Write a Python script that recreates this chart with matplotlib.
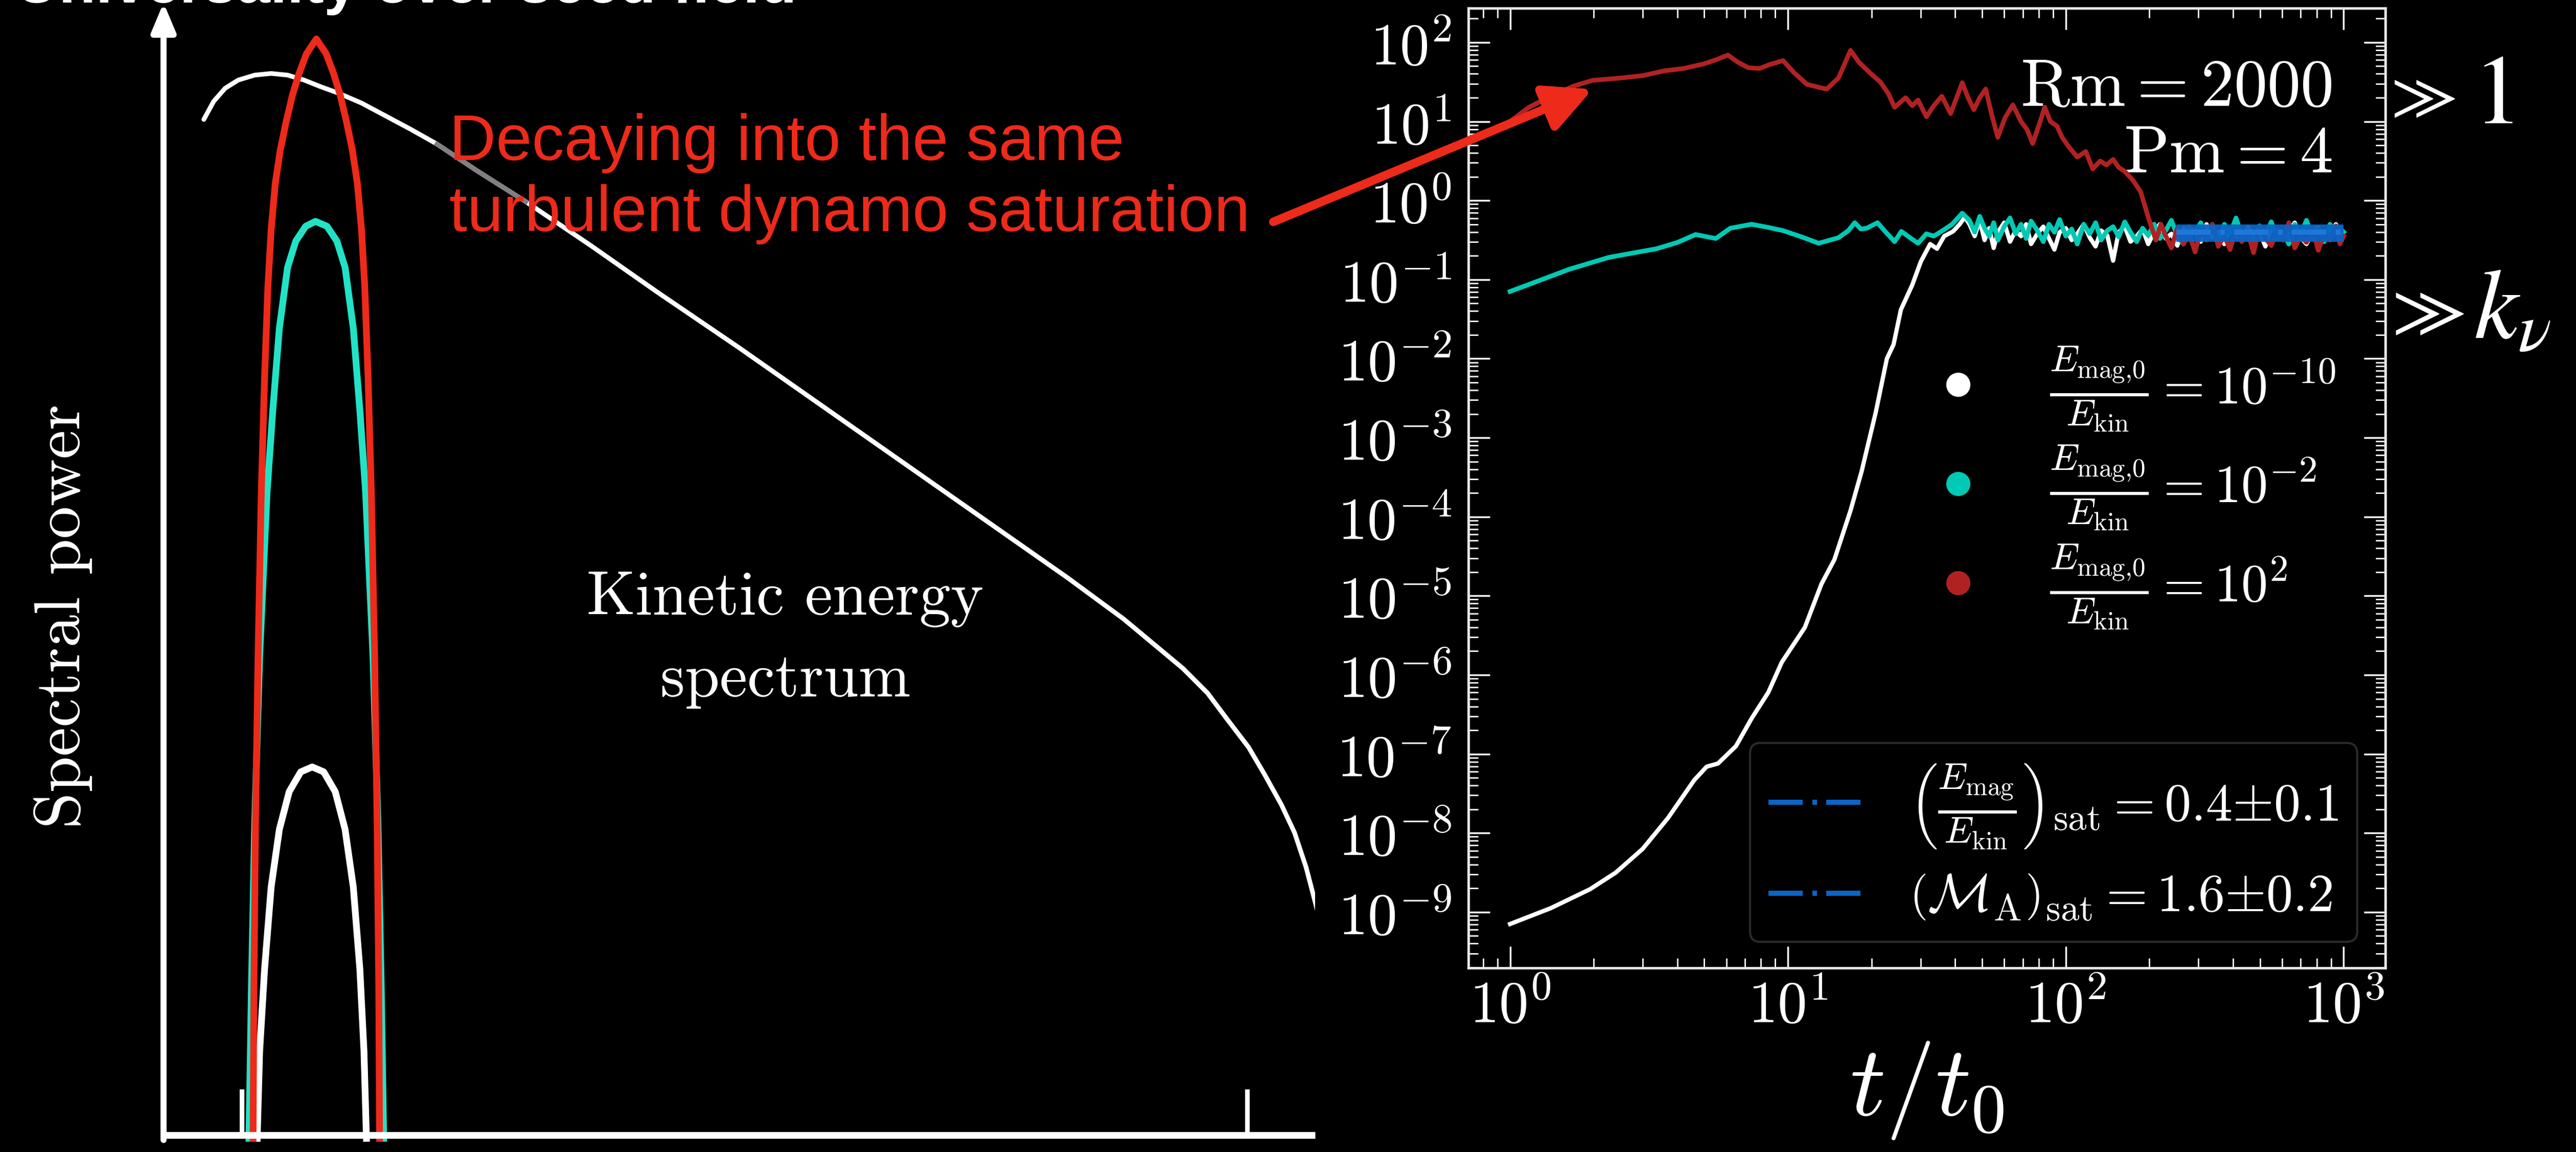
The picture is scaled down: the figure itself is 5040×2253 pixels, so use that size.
import numpy as np
import matplotlib
matplotlib.use("Agg")
import matplotlib.pyplot as plt
from matplotlib.lines import Line2D
from matplotlib.ticker import LogLocator, FuncFormatter, NullFormatter

plt.rcParams['mathtext.fontset'] = 'cm'

# ---------------- left schematic (arbitrary units: k along x, power along y)
red_arch_k = [54.5, 55, 56, 57.5, 59.5, 61.5, 63.5, 65.5, 68, 71, 74.5, 78.5, 82.5, 87, 93,
              99, 103.5, 107.5, 111.5, 115, 118, 120.5, 122.5, 124.5, 126.5, 128.5, 130, 131, 131.5]
red_arch_P = [-2, 91, 191, 291, 391, 461, 516, 551, 579, 599, 616, 633, 646, 658, 667,
              658, 646, 633, 616, 599, 579, 551, 516, 461, 391, 291, 191, 91, -2]
cyan_arch_k = [52, 53.5, 55.5, 58.5, 63, 66.5, 70.5, 75.5, 80.5, 86.5, 92.5,
               99.5, 105.5, 110.5, 115.5, 119.5, 123, 127.5, 130.5, 132.5, 134]
cyan_arch_P = [-2, 91, 191, 291, 391, 441, 491, 528, 544, 553, 556,
               553, 544, 528, 491, 441, 391, 291, 191, 91, -2]
white_arch_k = [57, 58.5, 61.5, 65.5, 70.5, 76.5, 83.5, 90.5, 97.5, 104.5, 110.5, 115.5, 119.5, 122, 123.5]
white_arch_P = [-2, 51, 101, 151, 186, 209, 221, 224, 221, 209, 186, 151, 101, 51, -2]
spec_k = [24.5, 30.5, 37.5, 45.5, 55.5, 65.5, 75.5, 85.5, 95.5, 106.5, 120.5, 135.5, 150.5, 166.5,
          190.5, 220.5, 260.5, 300.5, 350.5, 400.5, 450.5, 500.5, 550.5, 584.5, 620.5, 635.5,
          647.5, 660.5, 670.5, 680.5, 688.5, 695.5, 701, 705.5]
spec_P = [618, 629, 637, 642, 645, 646, 645, 642, 638, 634, 628, 620, 612, 603,
          587, 568, 541, 513, 479, 444, 409, 374, 339, 314, 284, 269,
          253, 236, 219, 201, 184, 163, 142, 125]
scale_ticks_k = [47.5, 659.5]

# ---------------- right panel: E_mag/E_kin vs t/t0
white_t_early = [1.0, 1.4, 1.94, 2.4, 3.0, 3.7, 4.6, 5.1, 5.6, 6.5, 7.4, 8.5, 9.5, 11.5, 13.2,
                 14.7, 16.8, 18.4, 20.7, 22.7, 24.0, 25.5, 28.0, 30.1, 32.5, 34.4, 36.5, 39.3, 41.5, 43.3]
white_log_early = [-9.15, -8.95, -8.71, -8.50, -8.20, -7.81, -7.33, -7.16, -7.12, -6.90, -6.55, -6.22,
                   -5.84, -5.40, -4.85, -4.54, -3.92, -3.43, -2.68, -2.00, -1.82, -1.38, -1.07, -0.77,
                   -0.55, -0.61, -0.45, -0.39, -0.30, -0.21]
cyan_t_early = [1.0, 1.3, 1.63, 2.26, 2.8, 3.36, 4.0, 4.65, 5.5, 6.2, 7.4, 8.5, 9.6, 11.0, 12.9, 15.2,
                16.5, 17.4, 18.3, 19.2, 21.0, 22.5, 24.2, 25.6, 27.5, 29.4, 31.5, 33.5, 36.0, 39.0, 42.4]
cyan_log_early = [-1.15, -1.00, -0.87, -0.72, -0.66, -0.61, -0.53, -0.43, -0.48, -0.35, -0.30, -0.34,
                  -0.38, -0.45, -0.54, -0.47, -0.38, -0.28, -0.36, -0.35, -0.28, -0.40, -0.52, -0.39,
                  -0.47, -0.54, -0.42, -0.45, -0.38, -0.30, -0.16]
red_t_early = [1.0, 1.17, 1.4, 1.7, 1.98, 2.5, 3.0, 3.58, 4.2, 5.0, 5.5, 6.08, 6.6, 7.2, 7.9, 8.6, 9.6,
               10.5, 11.7, 13.0, 13.8, 15.2, 16.8, 18.0, 19.8, 21.5, 23.0, 24.2, 26.5, 28.0, 29.4, 31.5,
               33.5, 35.8, 38.5, 42.4, 44.5, 46.7, 49.0, 51.5, 54.0, 56.9, 60.5, 64.5, 69.0, 72.5, 76.0,
               80.0, 84.0, 88.0, 93.0, 97.0, 102, 110, 118, 125, 133, 140, 148, 155, 163, 175, 186,
               198, 211, 220]
red_log_early = [1.00, 1.18, 1.32, 1.45, 1.52, 1.55, 1.58, 1.64, 1.67, 1.73, 1.78, 1.84, 1.75, 1.68,
                 1.67, 1.72, 1.77, 1.62, 1.47, 1.43, 1.41, 1.55, 1.90, 1.75, 1.61, 1.50, 1.35, 1.18,
                 1.30, 1.20, 1.27, 1.06, 1.20, 1.32, 1.10, 1.49, 1.30, 1.15, 1.30, 1.41, 1.10, 0.80,
                 1.05, 1.21, 1.00, 0.90, 0.72, 0.95, 1.18, 1.00, 0.94, 0.80, 0.69, 0.55, 0.62, 0.40,
                 0.50, 0.45, 0.52, 0.42, 0.37, 0.25, 0.11, -0.21, -0.50, -0.30]

sat_t = [45, 47, 49, 51, 53, 55, 57, 60, 63, 66, 69, 72, 75, 79, 83, 87, 91, 95, 100, 105, 110, 116,
         122, 128, 134, 141, 148, 155, 163, 171, 180, 189, 198, 208, 218, 229, 240, 252, 265, 278,
         292, 306, 321, 337, 354, 372, 390, 410, 430, 452, 474, 498, 523, 549, 576, 605, 635, 667,
         700, 735, 772, 810, 851, 893, 938, 970, 1000]
white_log_sat = [-0.30, -0.45, -0.25, -0.50, -0.35, -0.60, -0.40, -0.28, -0.52, -0.38,
                 -0.45, -0.30, -0.55, -0.42, -0.33, -0.48, -0.62, -0.40, -0.35, -0.50,
                 -0.42, -0.30, -0.47, -0.58, -0.38, -0.44, -0.76, -0.40, -0.33, -0.52,
                 -0.45, -0.36, -0.55, -0.40, -0.30, -0.48, -0.42, -0.57, -0.35, -0.45,
                 -0.38, -0.52, -0.30, -0.47, -0.40, -0.55, -0.36, -0.44, -0.50, -0.33,
                 -0.46, -0.40, -0.58, -0.35, -0.43, -0.50, -0.38, -0.28, -0.47, -0.55,
                 -0.40, -0.34, -0.50, -0.42, -0.30, -0.46, -0.40]
cyan_log_sat = [-0.25, -0.40, -0.20, -0.35, -0.45, -0.28, -0.50, -0.33, -0.22, -0.42,
                -0.30, -0.48, -0.26, -0.38, -0.52, -0.30, -0.40, -0.24, -0.45, -0.36,
                -0.55, -0.30, -0.42, -0.28, -0.50, -0.38, -0.33, -0.46, -0.27, -0.40,
                -0.52, -0.35, -0.44, -0.30, -0.48, -0.38, -0.25, -0.45, -0.55, -0.33,
                -0.40, -0.28, -0.47, -0.36, -0.52, -0.30, -0.42, -0.22, -0.45, -0.38,
                -0.50, -0.32, -0.44, -0.27, -0.48, -0.40, -0.55, -0.30, -0.43, -0.25,
                -0.47, -0.36, -0.52, -0.30, -0.42, -0.35, -0.40]
red_t_sat = sat_t[35:]
red_log_sat = [-0.45, -0.60, -0.35, -0.55, -0.42, -0.65, -0.38, -0.50, -0.30, -0.58,
               -0.44, -0.62, -0.36, -0.52, -0.40, -0.66, -0.33, -0.48, -0.57, -0.38,
               -0.50, -0.28, -0.60, -0.45, -0.53, -0.35, -0.63, -0.42, -0.50, -0.32,
               -0.55, -0.45]

band_t = [250, 1000]
sat_ratio, sat_err = 0.4, 0.1
legend_labels = [r'$\frac{E_{\rm mag{,}0}}{E_{\rm kin}} = 10^{-10}$',
                 r'$\frac{E_{\rm mag{,}0}}{E_{\rm kin}} = 10^{-2}$',
                 r'$\frac{E_{\rm mag{,}0}}{E_{\rm kin}} = 10^{2}$']
sat_labels = [r'${\left(\frac{E_{\rm mag}}{E_{\rm kin}}\right)}_{\rm sat} = 0.4{\pm}0.1$',
              r'${\left(\mathcal{M}_{\rm A}\right)}_{\rm sat} = 1.6{\pm}0.2$']

RED_BRIGHT = '#ee2a1a'
CYAN_BRIGHT = '#22e2c6'
WHITE = '#ffffff'
CYAN = '#00c9b5'
RED = '#b02222'
BLUE = '#0a64c8'

fig = plt.figure(figsize=(50.4, 22.53), dpi=100, facecolor='black')

# ---------------- left schematic
axL = fig.add_axes([320 / 5040, 0.0, 2253 / 5040, 1.0])
axL.set_facecolor('black')
axL.set_xlim(0, 701)
axL.set_ylim(-10.3, 690.7)
axL.axis('off')

spec_k_arr = np.array(spec_k)
spec_P_arr = np.array(spec_P)
axL.plot(spec_k_arr, spec_P_arr, color=WHITE, lw=6.5, solid_capstyle='round', zorder=2)
gray = (spec_k_arr >= 166) & (spec_k_arr <= 245)
axL.plot(spec_k_arr[gray], spec_P_arr[gray], color='#808080', lw=6.6, zorder=2.1)

axL.plot(white_arch_k, white_arch_P, color=WHITE, lw=9.5, zorder=3)
axL.plot(cyan_arch_k, cyan_arch_P, color=CYAN_BRIGHT, lw=9.5, zorder=4)
axL.plot(red_arch_k, red_arch_P, color=RED_BRIGHT, lw=9.5, zorder=5)

axL.plot([0, 701], [0, 0], color=WHITE, lw=9.5, solid_capstyle='butt', clip_on=False, zorder=6)
axL.vlines(scale_ticks_k, 0, 28, color=WHITE, lw=6.5, zorder=6)
axL.annotate('', xy=(0, 689), xytext=(0, -3), xycoords='data', textcoords='data',
             arrowprops=dict(arrowstyle='-|>,head_length=1.0,head_width=0.42', lw=8.5,
                             color=WHITE, mutation_scale=34, shrinkA=0, shrinkB=0),
             annotation_clip=False, zorder=7)

axL.text(378.5, 316.7, 'Kinetic energy', family='cmr10', fontsize=88, color=WHITE,
         ha='center', va='baseline')
axL.text(378.5, 266.9, 'spectrum', family='cmr10', fontsize=88, color=WHITE,
         ha='center', va='baseline')

fig.text(0.0245, 0.465, 'Spectral power', family='cmr10', fontsize=92, color=WHITE,
         rotation=90, ha='center', va='center')
fig.text(30 / 5040, 1 - 5 / 2253, 'Universality over seed field', family='Liberation Sans',
         fontweight='bold', fontsize=85, color=WHITE, ha='left', va='baseline')

fig.text(879 / 5040, 1 - 313 / 2253, 'Decaying into the same', family='Liberation Sans',
         fontsize=91, color=RED_BRIGHT, ha='left', va='baseline', zorder=10)
fig.text(879 / 5040, 1 - 452 / 2253, 'turbulent dynamo saturation', family='Liberation Sans',
         fontsize=91, color=RED_BRIGHT, ha='left', va='baseline', zorder=10)

# ---------------- right panel
axR = fig.add_axes([2873 / 5040, 1 - 1893 / 2253, 1794 / 5040, 1877 / 2253])
axR.set_facecolor('black')
axR.set_xscale('log')
axR.set_yscale('log')

axR.plot(white_t_early + sat_t, 10.0 ** np.array(white_log_early + white_log_sat),
         color=WHITE, lw=6, zorder=2)
axR.plot(cyan_t_early + sat_t, 10.0 ** np.array(cyan_log_early + cyan_log_sat),
         color=CYAN, lw=6.5, zorder=3)
axR.plot(red_t_early + red_t_sat, 10.0 ** np.array(red_log_early + red_log_sat),
         color=RED, lw=6.5, zorder=4)

axR.fill_between(band_t, sat_ratio - sat_err, sat_ratio + sat_err, color=BLUE, alpha=0.95,
                 lw=0, zorder=5)
dashdot = (0, (6.7, 1.9, 0.9, 1.8))
axR.plot(band_t, [sat_ratio, sat_ratio], color='#1f78d8', lw=7.2, ls=dashdot, zorder=6)

axR.set_xlim(0.708, 1413)
axR.set_ylim(1.97e-10, 271)

axR.xaxis.set_major_locator(LogLocator(base=10, numticks=30))
axR.xaxis.set_minor_locator(LogLocator(base=10, subs=np.arange(2, 10), numticks=30))
axR.yaxis.set_major_locator(LogLocator(base=10, numticks=30))
axR.yaxis.set_minor_locator(LogLocator(base=10, subs=np.arange(2, 10), numticks=30))
fmt = FuncFormatter(lambda v, pos: r'$10^{%d}$' % int(round(np.log10(v))))
axR.xaxis.set_major_formatter(fmt)
axR.yaxis.set_major_formatter(fmt)
axR.xaxis.set_minor_formatter(NullFormatter())
axR.yaxis.set_minor_formatter(NullFormatter())

axR.tick_params(which='both', direction='in', top=True, right=True, colors=WHITE,
                labelsize=83)
axR.tick_params(which='major', length=30, width=2.5)
axR.tick_params(which='minor', length=14, width=2.0)
axR.tick_params(axis='y', which='major', pad=24)
axR.tick_params(axis='x', which='major', pad=14)
for s in axR.spines.values():
    s.set_color('#e8e8e8')
    s.set_linewidth(3.5)

axR.set_xlabel(r'$t/t_0$', fontsize=140, color=WHITE, labelpad=6)

axR.text(0.942, 0.898, r'$\mathrm{Rm} = 2000$', transform=axR.transAxes, fontsize=94,
         color=WHITE, ha='right', va='baseline')
axR.text(0.942, 0.829, r'$\mathrm{Pm} = 4$', transform=axR.transAxes, fontsize=94,
         color=WHITE, ha='right', va='baseline')

dot_handles = [Line2D([], [], ls='none', marker='o', ms=34, mfc=c, mec='none')
               for c in (WHITE, CYAN, RED)]
leg1 = axR.legend(dot_handles, legend_labels, loc='center left', bbox_to_anchor=(0.505, 0.5),
                  frameon=False, fontsize=75, handlelength=1.0, handletextpad=1.22,
                  borderpad=0, borderaxespad=0, labelspacing=0.21, labelcolor=WHITE)
axR.add_artist(leg1)

line_handles = [Line2D([], [], color=BLUE, lw=7.2, ls=dashdot) for _ in sat_labels]
leg2 = axR.legend(line_handles, sat_labels, loc='lower right', bbox_to_anchor=(0.9693, 0.0272),
                  fontsize=75, frameon=True, facecolor='black', edgecolor='#2a2a2a',
                  framealpha=1, fancybox=True, handlelength=1.9, handletextpad=0.75,
                  borderpad=0.35, borderaxespad=0, labelspacing=0.4, labelcolor=WHITE)
leg2.get_frame().set_linewidth(3)

# arrow from the red note to the strong-field run
axR.annotate('', xy=(1.98, 25.6), xycoords='data', xytext=(0.4943, 0.8074),
             textcoords='figure fraction',
             arrowprops=dict(arrowstyle='-|>,head_length=1.0,head_width=0.5', lw=12,
                             color=RED_BRIGHT, mutation_scale=56, shrinkA=0, shrinkB=0),
             annotation_clip=False, zorder=20)

# much-greater-than notes at the right edge
fig.text(4662 / 5040, 1 - 59 / 701, r'$\gg$', math_fontfamily='stix', fontsize=96,
         color=WHITE, ha='left', va='center')
fig.text(4838 / 5040, 1 - 241 / 2253, r'$1$', math_fontfamily='stix', fontsize=140,
         color=WHITE, ha='left', va='baseline')
fig.text(4662 / 5040, 1 - 190 / 701, r'$\gg$', math_fontfamily='stix', fontsize=108,
         color=WHITE, ha='left', va='center')
fig.text(4840 / 5040, 1 - 661 / 2253, r'$k_\nu$', math_fontfamily='stix', fontsize=140,
         color=WHITE, ha='left', va='baseline')

fig.savefig('out.png', dpi=100, facecolor='black')
